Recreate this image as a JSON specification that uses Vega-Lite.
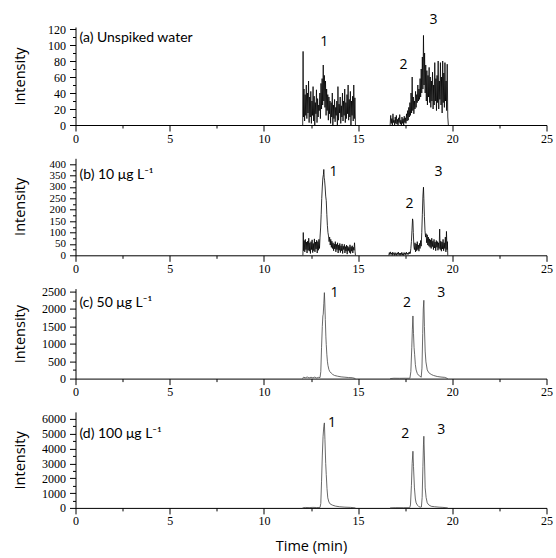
{
"background":"white",
"padding":{"left":11.5,"top":13,"right":3,"bottom":2},
"config":{"view":{"stroke":null},"axis":{"grid":false,"domainColor":"#000","tickColor":"#000","labelColor":"#000","labelFont":"Liberation Serif","labelFontSize":12,"labelFlush":false,"labelOverlap":false,"titleFont":"Open Sans","titleFontSize":14.5,"titleFontWeight":"normal","titleColor":"#000","domainWidth":1,"tickWidth":1,"format":"d"},"text":{"font":"Open Sans","fontSize":14,"color":"#000"}},
"datasets":{
"tr":[
{"p":"a","s":1,"t":12.06,"y":0},{"p":"a","s":1,"t":12.08,"y":92},{"p":"a","s":1,"t":12.10,"y":10},{"p":"a","s":1,"t":12.13,"y":45},{"p":"a","s":1,"t":12.16,"y":5},{"p":"a","s":1,"t":12.19,"y":38},{"p":"a","s":1,"t":12.22,"y":12},{"p":"a","s":1,"t":12.25,"y":50},{"p":"a","s":1,"t":12.28,"y":8},{"p":"a","s":1,"t":12.31,"y":40},{"p":"a","s":1,"t":12.34,"y":15},{"p":"a","s":1,"t":12.37,"y":55},{"p":"a","s":1,"t":12.40,"y":3},{"p":"a","s":1,"t":12.43,"y":35},{"p":"a","s":1,"t":12.46,"y":10},{"p":"a","s":1,"t":12.49,"y":42},{"p":"a","s":1,"t":12.52,"y":2},{"p":"a","s":1,"t":12.55,"y":30},{"p":"a","s":1,"t":12.58,"y":12},{"p":"a","s":1,"t":12.61,"y":48},{"p":"a","s":1,"t":12.64,"y":5},{"p":"a","s":1,"t":12.67,"y":36},{"p":"a","s":1,"t":12.70,"y":0},{"p":"a","s":1,"t":12.73,"y":28},{"p":"a","s":1,"t":12.76,"y":14},{"p":"a","s":1,"t":12.79,"y":44},{"p":"a","s":1,"t":12.82,"y":3},{"p":"a","s":1,"t":12.85,"y":33},{"p":"a","s":1,"t":12.88,"y":10},{"p":"a","s":1,"t":12.91,"y":25},{"p":"a","s":1,"t":12.94,"y":18},{"p":"a","s":1,"t":12.97,"y":40},{"p":"a","s":1,"t":13.00,"y":8},{"p":"a","s":1,"t":13.03,"y":52},{"p":"a","s":1,"t":13.06,"y":20},{"p":"a","s":1,"t":13.09,"y":58},{"p":"a","s":1,"t":13.12,"y":25},{"p":"a","s":1,"t":13.15,"y":75},{"p":"a","s":1,"t":13.18,"y":30},{"p":"a","s":1,"t":13.21,"y":62},{"p":"a","s":1,"t":13.24,"y":22},{"p":"a","s":1,"t":13.27,"y":55},{"p":"a","s":1,"t":13.30,"y":12},{"p":"a","s":1,"t":13.33,"y":45},{"p":"a","s":1,"t":13.36,"y":18},{"p":"a","s":1,"t":13.39,"y":38},{"p":"a","s":1,"t":13.42,"y":6},{"p":"a","s":1,"t":13.45,"y":35},{"p":"a","s":1,"t":13.48,"y":14},{"p":"a","s":1,"t":13.51,"y":30},{"p":"a","s":1,"t":13.54,"y":2},{"p":"a","s":1,"t":13.57,"y":28},{"p":"a","s":1,"t":13.60,"y":10},{"p":"a","s":1,"t":13.63,"y":40},{"p":"a","s":1,"t":13.66,"y":0},{"p":"a","s":1,"t":13.69,"y":25},{"p":"a","s":1,"t":13.72,"y":8},{"p":"a","s":1,"t":13.75,"y":32},{"p":"a","s":1,"t":13.78,"y":4},{"p":"a","s":1,"t":13.81,"y":22},{"p":"a","s":1,"t":13.84,"y":12},{"p":"a","s":1,"t":13.87,"y":30},{"p":"a","s":1,"t":13.90,"y":0},{"p":"a","s":1,"t":13.93,"y":48},{"p":"a","s":1,"t":13.96,"y":6},{"p":"a","s":1,"t":13.99,"y":26},{"p":"a","s":1,"t":14.02,"y":15},{"p":"a","s":1,"t":14.05,"y":35},{"p":"a","s":1,"t":14.08,"y":2},{"p":"a","s":1,"t":14.11,"y":24},{"p":"a","s":1,"t":14.14,"y":10},{"p":"a","s":1,"t":14.17,"y":40},{"p":"a","s":1,"t":14.20,"y":5},{"p":"a","s":1,"t":14.23,"y":30},{"p":"a","s":1,"t":14.26,"y":12},{"p":"a","s":1,"t":14.29,"y":45},{"p":"a","s":1,"t":14.32,"y":3},{"p":"a","s":1,"t":14.35,"y":28},{"p":"a","s":1,"t":14.38,"y":8},{"p":"a","s":1,"t":14.41,"y":38},{"p":"a","s":1,"t":14.44,"y":14},{"p":"a","s":1,"t":14.47,"y":50},{"p":"a","s":1,"t":14.50,"y":6},{"p":"a","s":1,"t":14.53,"y":32},{"p":"a","s":1,"t":14.56,"y":10},{"p":"a","s":1,"t":14.59,"y":42},{"p":"a","s":1,"t":14.62,"y":0},{"p":"a","s":1,"t":14.65,"y":30},{"p":"a","s":1,"t":14.68,"y":12},{"p":"a","s":1,"t":14.71,"y":36},{"p":"a","s":1,"t":14.74,"y":5},{"p":"a","s":1,"t":14.77,"y":50},{"p":"a","s":1,"t":14.80,"y":8},{"p":"a","s":1,"t":14.83,"y":34},{"p":"a","s":1,"t":14.86,"y":0},
{"p":"a","s":2,"t":16.70,"y":0},{"p":"a","s":2,"t":16.73,"y":12},{"p":"a","s":2,"t":16.76,"y":2},{"p":"a","s":2,"t":16.79,"y":8},{"p":"a","s":2,"t":16.82,"y":0},{"p":"a","s":2,"t":16.85,"y":14},{"p":"a","s":2,"t":16.88,"y":3},{"p":"a","s":2,"t":16.91,"y":6},{"p":"a","s":2,"t":16.94,"y":0},{"p":"a","s":2,"t":16.97,"y":10},{"p":"a","s":2,"t":17.00,"y":2},{"p":"a","s":2,"t":17.03,"y":12},{"p":"a","s":2,"t":17.06,"y":1},{"p":"a","s":2,"t":17.09,"y":7},{"p":"a","s":2,"t":17.12,"y":0},{"p":"a","s":2,"t":17.15,"y":9},{"p":"a","s":2,"t":17.18,"y":3},{"p":"a","s":2,"t":17.21,"y":13},{"p":"a","s":2,"t":17.24,"y":1},{"p":"a","s":2,"t":17.27,"y":6},{"p":"a","s":2,"t":17.30,"y":0},{"p":"a","s":2,"t":17.33,"y":10},{"p":"a","s":2,"t":17.36,"y":2},{"p":"a","s":2,"t":17.39,"y":8},{"p":"a","s":2,"t":17.42,"y":0},{"p":"a","s":2,"t":17.45,"y":11},{"p":"a","s":2,"t":17.48,"y":3},{"p":"a","s":2,"t":17.51,"y":9},{"p":"a","s":2,"t":17.54,"y":2},{"p":"a","s":2,"t":17.57,"y":14},{"p":"a","s":2,"t":17.60,"y":5},{"p":"a","s":2,"t":17.63,"y":18},{"p":"a","s":2,"t":17.66,"y":6},{"p":"a","s":2,"t":17.69,"y":22},{"p":"a","s":2,"t":17.72,"y":10},{"p":"a","s":2,"t":17.75,"y":28},{"p":"a","s":2,"t":17.78,"y":12},{"p":"a","s":2,"t":17.81,"y":40},{"p":"a","s":2,"t":17.84,"y":15},{"p":"a","s":2,"t":17.87,"y":60},{"p":"a","s":2,"t":17.90,"y":18},{"p":"a","s":2,"t":17.93,"y":35},{"p":"a","s":2,"t":17.96,"y":14},{"p":"a","s":2,"t":17.99,"y":30},{"p":"a","s":2,"t":18.02,"y":20},{"p":"a","s":2,"t":18.05,"y":42},{"p":"a","s":2,"t":18.08,"y":22},{"p":"a","s":2,"t":18.11,"y":38},{"p":"a","s":2,"t":18.14,"y":28},{"p":"a","s":2,"t":18.17,"y":50},{"p":"a","s":2,"t":18.20,"y":30},{"p":"a","s":2,"t":18.23,"y":45},{"p":"a","s":2,"t":18.26,"y":32},{"p":"a","s":2,"t":18.29,"y":58},{"p":"a","s":2,"t":18.32,"y":35},{"p":"a","s":2,"t":18.35,"y":70},{"p":"a","s":2,"t":18.38,"y":40},{"p":"a","s":2,"t":18.41,"y":85},{"p":"a","s":2,"t":18.44,"y":45},{"p":"a","s":2,"t":18.47,"y":112},{"p":"a","s":2,"t":18.50,"y":50},{"p":"a","s":2,"t":18.53,"y":90},{"p":"a","s":2,"t":18.56,"y":40},{"p":"a","s":2,"t":18.59,"y":75},{"p":"a","s":2,"t":18.62,"y":30},{"p":"a","s":2,"t":18.65,"y":68},{"p":"a","s":2,"t":18.68,"y":25},{"p":"a","s":2,"t":18.71,"y":62},{"p":"a","s":2,"t":18.74,"y":35},{"p":"a","s":2,"t":18.77,"y":72},{"p":"a","s":2,"t":18.80,"y":28},{"p":"a","s":2,"t":18.83,"y":60},{"p":"a","s":2,"t":18.86,"y":22},{"p":"a","s":2,"t":18.89,"y":55},{"p":"a","s":2,"t":18.92,"y":30},{"p":"a","s":2,"t":18.95,"y":66},{"p":"a","s":2,"t":18.98,"y":20},{"p":"a","s":2,"t":19.01,"y":50},{"p":"a","s":2,"t":19.04,"y":25},{"p":"a","s":2,"t":19.07,"y":78},{"p":"a","s":2,"t":19.10,"y":30},{"p":"a","s":2,"t":19.13,"y":58},{"p":"a","s":2,"t":19.16,"y":18},{"p":"a","s":2,"t":19.19,"y":62},{"p":"a","s":2,"t":19.22,"y":28},{"p":"a","s":2,"t":19.25,"y":80},{"p":"a","s":2,"t":19.28,"y":20},{"p":"a","s":2,"t":19.31,"y":55},{"p":"a","s":2,"t":19.34,"y":32},{"p":"a","s":2,"t":19.37,"y":78},{"p":"a","s":2,"t":19.40,"y":25},{"p":"a","s":2,"t":19.43,"y":60},{"p":"a","s":2,"t":19.46,"y":15},{"p":"a","s":2,"t":19.49,"y":80},{"p":"a","s":2,"t":19.52,"y":28},{"p":"a","s":2,"t":19.55,"y":65},{"p":"a","s":2,"t":19.58,"y":22},{"p":"a","s":2,"t":19.61,"y":78},{"p":"a","s":2,"t":19.64,"y":30},{"p":"a","s":2,"t":19.67,"y":55},{"p":"a","s":2,"t":19.70,"y":18},{"p":"a","s":2,"t":19.73,"y":76},{"p":"a","s":2,"t":19.76,"y":10},{"p":"a","s":2,"t":19.79,"y":0},
{"p":"b","s":1,"t":12.07,"y":0},{"p":"b","s":1,"t":12.09,"y":100},{"p":"b","s":1,"t":12.11,"y":20},{"p":"b","s":1,"t":12.14,"y":65},{"p":"b","s":1,"t":12.17,"y":15},{"p":"b","s":1,"t":12.20,"y":70},{"p":"b","s":1,"t":12.23,"y":25},{"p":"b","s":1,"t":12.26,"y":58},{"p":"b","s":1,"t":12.29,"y":10},{"p":"b","s":1,"t":12.32,"y":62},{"p":"b","s":1,"t":12.35,"y":22},{"p":"b","s":1,"t":12.38,"y":75},{"p":"b","s":1,"t":12.41,"y":18},{"p":"b","s":1,"t":12.44,"y":55},{"p":"b","s":1,"t":12.47,"y":8},{"p":"b","s":1,"t":12.50,"y":60},{"p":"b","s":1,"t":12.53,"y":25},{"p":"b","s":1,"t":12.56,"y":68},{"p":"b","s":1,"t":12.59,"y":12},{"p":"b","s":1,"t":12.62,"y":52},{"p":"b","s":1,"t":12.65,"y":20},{"p":"b","s":1,"t":12.68,"y":72},{"p":"b","s":1,"t":12.71,"y":15},{"p":"b","s":1,"t":12.74,"y":58},{"p":"b","s":1,"t":12.77,"y":28},{"p":"b","s":1,"t":12.80,"y":66},{"p":"b","s":1,"t":12.83,"y":10},{"p":"b","s":1,"t":12.86,"y":60},{"p":"b","s":1,"t":12.89,"y":22},{"p":"b","s":1,"t":12.92,"y":70},{"p":"b","s":1,"t":12.95,"y":30},{"p":"b","s":1,"t":12.98,"y":80},{"p":"b","s":1,"t":13.01,"y":120},{"p":"b","s":1,"t":13.04,"y":180},{"p":"b","s":1,"t":13.07,"y":250},{"p":"b","s":1,"t":13.10,"y":300},{"p":"b","s":1,"t":13.13,"y":340},{"p":"b","s":1,"t":13.16,"y":355},{"p":"b","s":1,"t":13.18,"y":377},{"p":"b","s":1,"t":13.20,"y":340},{"p":"b","s":1,"t":13.22,"y":330},{"p":"b","s":1,"t":13.25,"y":300},{"p":"b","s":1,"t":13.28,"y":260},{"p":"b","s":1,"t":13.31,"y":240},{"p":"b","s":1,"t":13.34,"y":180},{"p":"b","s":1,"t":13.37,"y":130},{"p":"b","s":1,"t":13.40,"y":100},{"p":"b","s":1,"t":13.43,"y":85},{"p":"b","s":1,"t":13.46,"y":60},{"p":"b","s":1,"t":13.49,"y":80},{"p":"b","s":1,"t":13.52,"y":45},{"p":"b","s":1,"t":13.55,"y":70},{"p":"b","s":1,"t":13.58,"y":35},{"p":"b","s":1,"t":13.61,"y":62},{"p":"b","s":1,"t":13.64,"y":30},{"p":"b","s":1,"t":13.67,"y":55},{"p":"b","s":1,"t":13.70,"y":20},{"p":"b","s":1,"t":13.73,"y":50},{"p":"b","s":1,"t":13.76,"y":28},{"p":"b","s":1,"t":13.79,"y":60},{"p":"b","s":1,"t":13.82,"y":15},{"p":"b","s":1,"t":13.85,"y":48},{"p":"b","s":1,"t":13.88,"y":25},{"p":"b","s":1,"t":13.91,"y":55},{"p":"b","s":1,"t":13.94,"y":10},{"p":"b","s":1,"t":13.97,"y":45},{"p":"b","s":1,"t":14.00,"y":22},{"p":"b","s":1,"t":14.03,"y":52},{"p":"b","s":1,"t":14.06,"y":12},{"p":"b","s":1,"t":14.09,"y":42},{"p":"b","s":1,"t":14.12,"y":20},{"p":"b","s":1,"t":14.15,"y":50},{"p":"b","s":1,"t":14.18,"y":8},{"p":"b","s":1,"t":14.21,"y":40},{"p":"b","s":1,"t":14.24,"y":25},{"p":"b","s":1,"t":14.27,"y":48},{"p":"b","s":1,"t":14.30,"y":10},{"p":"b","s":1,"t":14.33,"y":38},{"p":"b","s":1,"t":14.36,"y":18},{"p":"b","s":1,"t":14.39,"y":45},{"p":"b","s":1,"t":14.42,"y":5},{"p":"b","s":1,"t":14.45,"y":40},{"p":"b","s":1,"t":14.48,"y":20},{"p":"b","s":1,"t":14.51,"y":35},{"p":"b","s":1,"t":14.54,"y":12},{"p":"b","s":1,"t":14.57,"y":46},{"p":"b","s":1,"t":14.60,"y":8},{"p":"b","s":1,"t":14.63,"y":38},{"p":"b","s":1,"t":14.66,"y":18},{"p":"b","s":1,"t":14.69,"y":42},{"p":"b","s":1,"t":14.72,"y":10},{"p":"b","s":1,"t":14.75,"y":35},{"p":"b","s":1,"t":14.78,"y":22},{"p":"b","s":1,"t":14.81,"y":55},{"p":"b","s":1,"t":14.84,"y":15},{"p":"b","s":1,"t":14.86,"y":0},
{"p":"b","s":2,"t":16.63,"y":0},{"p":"b","s":2,"t":16.66,"y":12},{"p":"b","s":2,"t":16.69,"y":3},{"p":"b","s":2,"t":16.72,"y":15},{"p":"b","s":2,"t":16.75,"y":5},{"p":"b","s":2,"t":16.78,"y":10},{"p":"b","s":2,"t":16.81,"y":0},{"p":"b","s":2,"t":16.84,"y":14},{"p":"b","s":2,"t":16.87,"y":4},{"p":"b","s":2,"t":16.90,"y":9},{"p":"b","s":2,"t":16.93,"y":0},{"p":"b","s":2,"t":16.96,"y":12},{"p":"b","s":2,"t":16.99,"y":3},{"p":"b","s":2,"t":17.02,"y":8},{"p":"b","s":2,"t":17.05,"y":0},{"p":"b","s":2,"t":17.08,"y":11},{"p":"b","s":2,"t":17.11,"y":4},{"p":"b","s":2,"t":17.14,"y":14},{"p":"b","s":2,"t":17.17,"y":2},{"p":"b","s":2,"t":17.20,"y":9},{"p":"b","s":2,"t":17.23,"y":0},{"p":"b","s":2,"t":17.26,"y":10},{"p":"b","s":2,"t":17.29,"y":3},{"p":"b","s":2,"t":17.32,"y":13},{"p":"b","s":2,"t":17.35,"y":1},{"p":"b","s":2,"t":17.38,"y":8},{"p":"b","s":2,"t":17.41,"y":0},{"p":"b","s":2,"t":17.44,"y":12},{"p":"b","s":2,"t":17.47,"y":4},{"p":"b","s":2,"t":17.50,"y":10},{"p":"b","s":2,"t":17.53,"y":2},{"p":"b","s":2,"t":17.56,"y":14},{"p":"b","s":2,"t":17.59,"y":5},{"p":"b","s":2,"t":17.62,"y":9},{"p":"b","s":2,"t":17.65,"y":3},{"p":"b","s":2,"t":17.68,"y":12},{"p":"b","s":2,"t":17.71,"y":6},{"p":"b","s":2,"t":17.74,"y":15},{"p":"b","s":2,"t":17.77,"y":8},{"p":"b","s":2,"t":17.80,"y":30},{"p":"b","s":2,"t":17.83,"y":60},{"p":"b","s":2,"t":17.86,"y":110},{"p":"b","s":2,"t":17.89,"y":160},{"p":"b","s":2,"t":17.91,"y":150},{"p":"b","s":2,"t":17.93,"y":100},{"p":"b","s":2,"t":17.96,"y":40},{"p":"b","s":2,"t":17.99,"y":25},{"p":"b","s":2,"t":18.02,"y":55},{"p":"b","s":2,"t":18.05,"y":15},{"p":"b","s":2,"t":18.08,"y":50},{"p":"b","s":2,"t":18.11,"y":20},{"p":"b","s":2,"t":18.14,"y":60},{"p":"b","s":2,"t":18.17,"y":25},{"p":"b","s":2,"t":18.20,"y":45},{"p":"b","s":2,"t":18.23,"y":18},{"p":"b","s":2,"t":18.26,"y":52},{"p":"b","s":2,"t":18.29,"y":30},{"p":"b","s":2,"t":18.32,"y":65},{"p":"b","s":2,"t":18.35,"y":40},{"p":"b","s":2,"t":18.38,"y":100},{"p":"b","s":2,"t":18.41,"y":180},{"p":"b","s":2,"t":18.44,"y":260},{"p":"b","s":2,"t":18.47,"y":299},{"p":"b","s":2,"t":18.49,"y":250},{"p":"b","s":2,"t":18.52,"y":170},{"p":"b","s":2,"t":18.55,"y":110},{"p":"b","s":2,"t":18.58,"y":80},{"p":"b","s":2,"t":18.61,"y":95},{"p":"b","s":2,"t":18.64,"y":55},{"p":"b","s":2,"t":18.67,"y":90},{"p":"b","s":2,"t":18.70,"y":45},{"p":"b","s":2,"t":18.73,"y":80},{"p":"b","s":2,"t":18.76,"y":40},{"p":"b","s":2,"t":18.79,"y":72},{"p":"b","s":2,"t":18.82,"y":35},{"p":"b","s":2,"t":18.85,"y":68},{"p":"b","s":2,"t":18.88,"y":30},{"p":"b","s":2,"t":18.91,"y":75},{"p":"b","s":2,"t":18.94,"y":38},{"p":"b","s":2,"t":18.97,"y":62},{"p":"b","s":2,"t":19.00,"y":25},{"p":"b","s":2,"t":19.03,"y":70},{"p":"b","s":2,"t":19.06,"y":32},{"p":"b","s":2,"t":19.09,"y":58},{"p":"b","s":2,"t":19.12,"y":20},{"p":"b","s":2,"t":19.15,"y":65},{"p":"b","s":2,"t":19.18,"y":35},{"p":"b","s":2,"t":19.21,"y":60},{"p":"b","s":2,"t":19.24,"y":22},{"p":"b","s":2,"t":19.27,"y":55},{"p":"b","s":2,"t":19.30,"y":30},{"p":"b","s":2,"t":19.33,"y":115},{"p":"b","s":2,"t":19.36,"y":25},{"p":"b","s":2,"t":19.39,"y":62},{"p":"b","s":2,"t":19.42,"y":18},{"p":"b","s":2,"t":19.45,"y":58},{"p":"b","s":2,"t":19.48,"y":28},{"p":"b","s":2,"t":19.51,"y":70},{"p":"b","s":2,"t":19.54,"y":20},{"p":"b","s":2,"t":19.57,"y":55},{"p":"b","s":2,"t":19.60,"y":30},{"p":"b","s":2,"t":19.63,"y":80},{"p":"b","s":2,"t":19.66,"y":15},{"p":"b","s":2,"t":19.69,"y":105},{"p":"b","s":2,"t":19.72,"y":25},{"p":"b","s":2,"t":19.74,"y":60},{"p":"b","s":2,"t":19.76,"y":0},
{"p":"c","s":1,"t":12.05,"y":0},{"p":"c","s":1,"t":12.1,"y":40},{"p":"c","s":1,"t":12.2,"y":25},{"p":"c","s":1,"t":12.3,"y":45},{"p":"c","s":1,"t":12.4,"y":20},{"p":"c","s":1,"t":12.5,"y":38},{"p":"c","s":1,"t":12.6,"y":22},{"p":"c","s":1,"t":12.7,"y":42},{"p":"c","s":1,"t":12.8,"y":18},{"p":"c","s":1,"t":12.9,"y":35},{"p":"c","s":1,"t":12.98,"y":30},{"p":"c","s":1,"t":13.02,"y":200},{"p":"c","s":1,"t":13.06,"y":900},{"p":"c","s":1,"t":13.10,"y":1500},{"p":"c","s":1,"t":13.13,"y":1800},{"p":"c","s":1,"t":13.15,"y":1850},{"p":"c","s":1,"t":13.18,"y":2150},{"p":"c","s":1,"t":13.21,"y":2470},{"p":"c","s":1,"t":13.23,"y":2200},{"p":"c","s":1,"t":13.26,"y":1700},{"p":"c","s":1,"t":13.29,"y":1200},{"p":"c","s":1,"t":13.31,"y":980},{"p":"c","s":1,"t":13.34,"y":700},{"p":"c","s":1,"t":13.37,"y":500},{"p":"c","s":1,"t":13.40,"y":380},{"p":"c","s":1,"t":13.45,"y":260},{"p":"c","s":1,"t":13.50,"y":200},{"p":"c","s":1,"t":13.57,"y":160},{"p":"c","s":1,"t":13.65,"y":120},{"p":"c","s":1,"t":13.75,"y":90},{"p":"c","s":1,"t":13.9,"y":70},{"p":"c","s":1,"t":14.1,"y":50},{"p":"c","s":1,"t":14.3,"y":40},{"p":"c","s":1,"t":14.5,"y":30},{"p":"c","s":1,"t":14.7,"y":25},{"p":"c","s":1,"t":14.86,"y":0},
{"p":"c","s":2,"t":16.7,"y":0},{"p":"c","s":2,"t":16.9,"y":10},{"p":"c","s":2,"t":17.2,"y":8},{"p":"c","s":2,"t":17.5,"y":10},{"p":"c","s":2,"t":17.75,"y":10},{"p":"c","s":2,"t":17.8,"y":200},{"p":"c","s":2,"t":17.85,"y":900},{"p":"c","s":2,"t":17.88,"y":1400},{"p":"c","s":2,"t":17.91,"y":1800},{"p":"c","s":2,"t":17.94,"y":1300},{"p":"c","s":2,"t":17.97,"y":900},{"p":"c","s":2,"t":18.00,"y":700},{"p":"c","s":2,"t":18.04,"y":400},{"p":"c","s":2,"t":18.08,"y":250},{"p":"c","s":2,"t":18.14,"y":150},{"p":"c","s":2,"t":18.20,"y":100},{"p":"c","s":2,"t":18.28,"y":70},{"p":"c","s":2,"t":18.35,"y":40},{"p":"c","s":2,"t":18.39,"y":300},{"p":"c","s":2,"t":18.43,"y":1300},{"p":"c","s":2,"t":18.46,"y":2000},{"p":"c","s":2,"t":18.49,"y":2250},{"p":"c","s":2,"t":18.52,"y":1500},{"p":"c","s":2,"t":18.56,"y":790},{"p":"c","s":2,"t":18.60,"y":480},{"p":"c","s":2,"t":18.67,"y":250},{"p":"c","s":2,"t":18.75,"y":170},{"p":"c","s":2,"t":18.88,"y":120},{"p":"c","s":2,"t":19.0,"y":90},{"p":"c","s":2,"t":19.2,"y":60},{"p":"c","s":2,"t":19.4,"y":45},{"p":"c","s":2,"t":19.6,"y":35},{"p":"c","s":2,"t":19.76,"y":0},
{"p":"d","s":1,"t":12.05,"y":0},{"p":"d","s":1,"t":12.2,"y":30},{"p":"d","s":1,"t":12.4,"y":20},{"p":"d","s":1,"t":12.6,"y":35},{"p":"d","s":1,"t":12.8,"y":25},{"p":"d","s":1,"t":12.98,"y":30},{"p":"d","s":1,"t":13.02,"y":300},{"p":"d","s":1,"t":13.06,"y":1800},{"p":"d","s":1,"t":13.10,"y":3500},{"p":"d","s":1,"t":13.14,"y":4800},{"p":"d","s":1,"t":13.18,"y":5500},{"p":"d","s":1,"t":13.21,"y":5730},{"p":"d","s":1,"t":13.24,"y":4600},{"p":"d","s":1,"t":13.28,"y":3000},{"p":"d","s":1,"t":13.31,"y":2250},{"p":"d","s":1,"t":13.35,"y":1300},{"p":"d","s":1,"t":13.39,"y":680},{"p":"d","s":1,"t":13.45,"y":400},{"p":"d","s":1,"t":13.52,"y":260},{"p":"d","s":1,"t":13.65,"y":180},{"p":"d","s":1,"t":13.8,"y":120},{"p":"d","s":1,"t":14.0,"y":80},{"p":"d","s":1,"t":14.3,"y":50},{"p":"d","s":1,"t":14.6,"y":35},{"p":"d","s":1,"t":14.86,"y":0},
{"p":"d","s":2,"t":16.7,"y":0},{"p":"d","s":2,"t":17.0,"y":15},{"p":"d","s":2,"t":17.4,"y":12},{"p":"d","s":2,"t":17.74,"y":15},{"p":"d","s":2,"t":17.78,"y":200},{"p":"d","s":2,"t":17.83,"y":1500},{"p":"d","s":2,"t":17.87,"y":3000},{"p":"d","s":2,"t":17.91,"y":3820},{"p":"d","s":2,"t":17.94,"y":2800},{"p":"d","s":2,"t":17.99,"y":1350},{"p":"d","s":2,"t":18.04,"y":600},{"p":"d","s":2,"t":18.08,"y":340},{"p":"d","s":2,"t":18.15,"y":180},{"p":"d","s":2,"t":18.22,"y":90},{"p":"d","s":2,"t":18.30,"y":50},{"p":"d","s":2,"t":18.36,"y":60},{"p":"d","s":2,"t":18.40,"y":700},{"p":"d","s":2,"t":18.44,"y":2800},{"p":"d","s":2,"t":18.47,"y":4300},{"p":"d","s":2,"t":18.49,"y":4830},{"p":"d","s":2,"t":18.52,"y":3500},{"p":"d","s":2,"t":18.56,"y":1350},{"p":"d","s":2,"t":18.61,"y":700},{"p":"d","s":2,"t":18.67,"y":340},{"p":"d","s":2,"t":18.75,"y":200},{"p":"d","s":2,"t":18.88,"y":110},{"p":"d","s":2,"t":19.05,"y":80},{"p":"d","s":2,"t":19.3,"y":50},{"p":"d","s":2,"t":19.5,"y":35},{"p":"d","s":2,"t":19.76,"y":0}
],
"lab":[
{"p":"a","k":"pk","t":13.2,"y":104,"txt":"1"},{"p":"a","k":"pk","t":17.41,"y":75,"txt":"2"},{"p":"a","k":"pk","t":19.0,"y":131,"txt":"3"},{"p":"a","k":"pn","t":0.21,"y":109,"txt":"(a) Unspiked water"},
{"p":"b","k":"pk","t":13.7,"y":368,"txt":"1"},{"p":"b","k":"pk","t":17.73,"y":225,"txt":"2"},{"p":"b","k":"pk","t":19.27,"y":365,"txt":"3"},{"p":"b","k":"pn","t":0.21,"y":352,"txt":"(b) 10 μg L⁻¹"},
{"p":"c","k":"pk","t":13.75,"y":2460,"txt":"1"},{"p":"c","k":"pk","t":17.59,"y":2180,"txt":"2"},{"p":"c","k":"pk","t":19.41,"y":2460,"txt":"3"},{"p":"c","k":"pn","t":0.21,"y":2180,"txt":"(c) 50 μg L⁻¹"},
{"p":"d","k":"pk","t":13.61,"y":5730,"txt":"1"},{"p":"d","k":"pk","t":17.5,"y":4990,"txt":"2"},{"p":"d","k":"pk","t":19.41,"y":5280,"txt":"3"},{"p":"d","k":"pn","t":0.21,"y":4990,"txt":"(d) 100 μg L⁻¹"}
]},
"bounds":"flush",
"spacing":33.3,
"vconcat":[
{"width":471,"height":98,
"encoding":{
"x":{"field":"t","type":"quantitative","scale":{"domain":[0,25],"nice":false,"zero":false},"axis":{"title":null,"values":[0,2.5,5,7.5,10,12.5,15,17.5,20,22.5,25],"labelExpr":"datum.value % 5 === 0 ? datum.label : ''","tickSize":{"condition":{"test":"datum.value % 5 === 0","value":6},"value":3},"labelPadding":2}},
"y":{"field":"y","type":"quantitative","scale":{"domain":[0,122.5],"nice":false},"axis":{"title":"Intensity","titleX":-51,"titleY":49,"titleBaseline":"alphabetic","values":[0,10,20,30,40,50,60,70,80,90,100,110,120],"labelExpr":"datum.value % 20 === 0 ? datum.label : ''","tickSize":{"condition":{"test":"datum.value % 20 === 0","value":6},"value":3},"labelPadding":4}}},
"layer":[
{"data":{"name":"tr"},"transform":[{"filter":"datum.p==='a'"}],"mark":{"type":"line","color":"#000","strokeWidth":0.8},"encoding":{"detail":{"field":"s"}}},
{"data":{"name":"lab"},"transform":[{"filter":"datum.p==='a' && datum.k==='pk'"}],"mark":{"type":"text","align":"center","baseline":"middle"},"encoding":{"text":{"field":"txt"}}},
{"data":{"name":"lab"},"transform":[{"filter":"datum.p==='a' && datum.k==='pn'"}],"mark":{"type":"text","align":"left","baseline":"middle","font":"Lato","fontSize":14},"encoding":{"text":{"field":"txt"}}}
]},
{"width":471,"height":97,
"encoding":{
"x":{"field":"t","type":"quantitative","scale":{"domain":[0,25],"nice":false,"zero":false},"axis":{"title":null,"values":[0,2.5,5,7.5,10,12.5,15,17.5,20,22.5,25],"labelExpr":"datum.value % 5 === 0 ? datum.label : ''","tickSize":{"condition":{"test":"datum.value % 5 === 0","value":6},"value":3},"labelPadding":2}},
"y":{"field":"y","type":"quantitative","scale":{"domain":[0,426],"nice":false},"axis":{"title":"Intensity","titleX":-51,"titleY":48,"titleBaseline":"alphabetic","labelFontSize":11,"values":[0,25,50,75,100,125,150,175,200,225,250,275,300,325,350,375,400],"labelExpr":"datum.value % 50 === 0 ? datum.label : ''","tickSize":{"condition":{"test":"datum.value % 50 === 0","value":6},"value":3},"labelPadding":4}}},
"layer":[
{"data":{"name":"tr"},"transform":[{"filter":"datum.p==='b'"}],"mark":{"type":"line","color":"#000","strokeWidth":0.8},"encoding":{"detail":{"field":"s"}}},
{"data":{"name":"lab"},"transform":[{"filter":"datum.p==='b' && datum.k==='pk'"}],"mark":{"type":"text","align":"center","baseline":"middle"},"encoding":{"text":{"field":"txt"}}},
{"data":{"name":"lab"},"transform":[{"filter":"datum.p==='b' && datum.k==='pn'"}],"mark":{"type":"text","align":"left","baseline":"middle","font":"Lato","fontSize":14},"encoding":{"text":{"field":"txt"}}}
]},
{"width":471,"height":90,
"encoding":{
"x":{"field":"t","type":"quantitative","scale":{"domain":[0,25],"nice":false,"zero":false},"axis":{"title":null,"values":[0,2.5,5,7.5,10,12.5,15,17.5,20,22.5,25],"labelExpr":"datum.value % 5 === 0 ? datum.label : ''","tickSize":{"condition":{"test":"datum.value % 5 === 0","value":6},"value":3},"labelPadding":2}},
"y":{"field":"y","type":"quantitative","scale":{"domain":[0,2586],"nice":false},"axis":{"title":"Intensity","titleX":-51,"titleY":45,"titleBaseline":"alphabetic","values":[0,250,500,750,1000,1250,1500,1750,2000,2250,2500],"labelExpr":"datum.value % 500 === 0 ? datum.label : ''","tickSize":{"condition":{"test":"datum.value % 500 === 0","value":6},"value":3},"labelPadding":4}}},
"layer":[
{"data":{"name":"tr"},"transform":[{"filter":"datum.p==='c'"}],"mark":{"type":"line","color":"#444","strokeWidth":0.8},"encoding":{"detail":{"field":"s"}}},
{"data":{"name":"lab"},"transform":[{"filter":"datum.p==='c' && datum.k==='pk'"}],"mark":{"type":"text","align":"center","baseline":"middle"},"encoding":{"text":{"field":"txt"}}},
{"data":{"name":"lab"},"transform":[{"filter":"datum.p==='c' && datum.k==='pn'"}],"mark":{"type":"text","align":"left","baseline":"middle","font":"Lato","fontSize":14},"encoding":{"text":{"field":"txt"}}}
]},
{"width":471,"height":96,
"encoding":{
"x":{"field":"t","type":"quantitative","scale":{"domain":[0,25],"nice":false,"zero":false},"axis":{"title":"Time (min)","titlePadding":13,"values":[0,2.5,5,7.5,10,12.5,15,17.5,20,22.5,25],"labelExpr":"datum.value % 5 === 0 ? datum.label : ''","tickSize":{"condition":{"test":"datum.value % 5 === 0","value":6},"value":3},"labelPadding":2}},
"y":{"field":"y","type":"quantitative","scale":{"domain":[0,6472],"nice":false},"axis":{"title":"Intensity","titleX":-51,"titleY":48,"titleBaseline":"alphabetic","values":[0,500,1000,1500,2000,2500,3000,3500,4000,4500,5000,5500,6000],"labelExpr":"datum.value % 1000 === 0 ? datum.label : ''","tickSize":{"condition":{"test":"datum.value % 1000 === 0","value":6},"value":3},"labelPadding":4}}},
"layer":[
{"data":{"name":"tr"},"transform":[{"filter":"datum.p==='d'"}],"mark":{"type":"line","color":"#444","strokeWidth":0.8},"encoding":{"detail":{"field":"s"}}},
{"data":{"name":"lab"},"transform":[{"filter":"datum.p==='d' && datum.k==='pk'"}],"mark":{"type":"text","align":"center","baseline":"middle"},"encoding":{"text":{"field":"txt"}}},
{"data":{"name":"lab"},"transform":[{"filter":"datum.p==='d' && datum.k==='pn'"}],"mark":{"type":"text","align":"left","baseline":"middle","font":"Lato","fontSize":14},"encoding":{"text":{"field":"txt"}}}
]}
]
}
